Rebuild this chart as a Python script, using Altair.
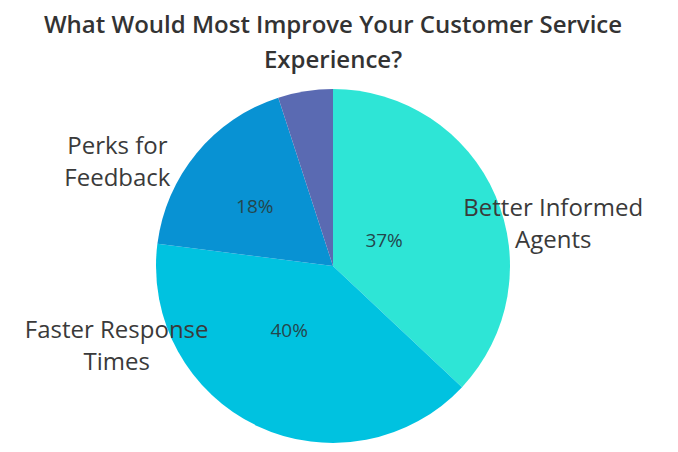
import altair as alt
import pandas as pd

# ---- data ----
categories = ["Better Informed Agents", "Faster Response Times", "Perks for Feedback", "Other"]
values = [37, 40, 18, 5]
pct_text = ["37%", "40%", "18%", ""]
outer_text = ["Better Informed\nAgents", "Faster Response\nTimes", "Perks for\nFeedback", ""]
colors = ["#2EE5D6", "#00C2E0", "#0892D3", "#5A6AB2"]

# ---- layout (label placement, not data) ----
pct_shift = [-0.8, 2.5, -0.7, 0]      # in percent-of-circle units
pct_radius = [57, 78, 98, 0]
outer_shift = [3.56, 12.3, -3.9, 0]
outer_radius = [224, 231, 239, 0]
PIE_R = 177

df = pd.DataFrame({"category": categories, "value": values, "pct": pct_text,
                   "outer": outer_text, "order": list(range(len(categories)))})
df["cum"] = df["value"].cumsum()
df["mid"] = df["cum"] - df["value"] / 2
df["pct_pos"] = df["mid"] + pct_shift
df["pct_r"] = pct_radius
df["out_pos"] = df["mid"] + outer_shift
df["out_r"] = outer_radius

color_scale = alt.Scale(domain=categories, range=colors)

pie = alt.Chart(df).mark_arc(outerRadius=PIE_R, stroke=None).encode(
    theta=alt.Theta("value:Q", stack=True),
    color=alt.Color("category:N", scale=color_scale, legend=None),
    order=alt.Order("order:Q"),
)

pct = alt.Chart(df).transform_filter("datum.pct != ''").mark_text(
    font="Open Sans", fontSize=19, color="#24474d", align="center", baseline="middle"
).encode(
    theta=alt.Theta("pct_pos:Q", stack=None),
    radius=alt.Radius("pct_r:Q", scale=None),
    text="pct:N",
)

outer = alt.Chart(df).transform_filter("datum.outer != ''").mark_text(
    font="Open Sans", fontSize=24, color="#3a3a3a", align="center", baseline="middle",
    lineBreak="\n", lineHeight=32, dy=-16
).encode(
    theta=alt.Theta("out_pos:Q", stack=None),
    radius=alt.Radius("out_r:Q", scale=None),
    text="outer:N",
)

chart = alt.layer(pie, pct, outer).properties(
    width=650, height=356,
    autosize=alt.AutoSizeParams(type="none"),
    padding={"left": 0, "top": 80, "right": 12, "bottom": 0},
    title=alt.TitleParams(
        text=["What Would Most Improve Your Customer Service", "Experience?"],
        font="Open Sans", fontSize=24, fontWeight=600, color="#333333",
        anchor="middle", lineHeight=35, offset=15,
    ),
).configure_view(stroke=None)

chart.save("out.html", embed_options={"renderer": "svg", "actions": False})
